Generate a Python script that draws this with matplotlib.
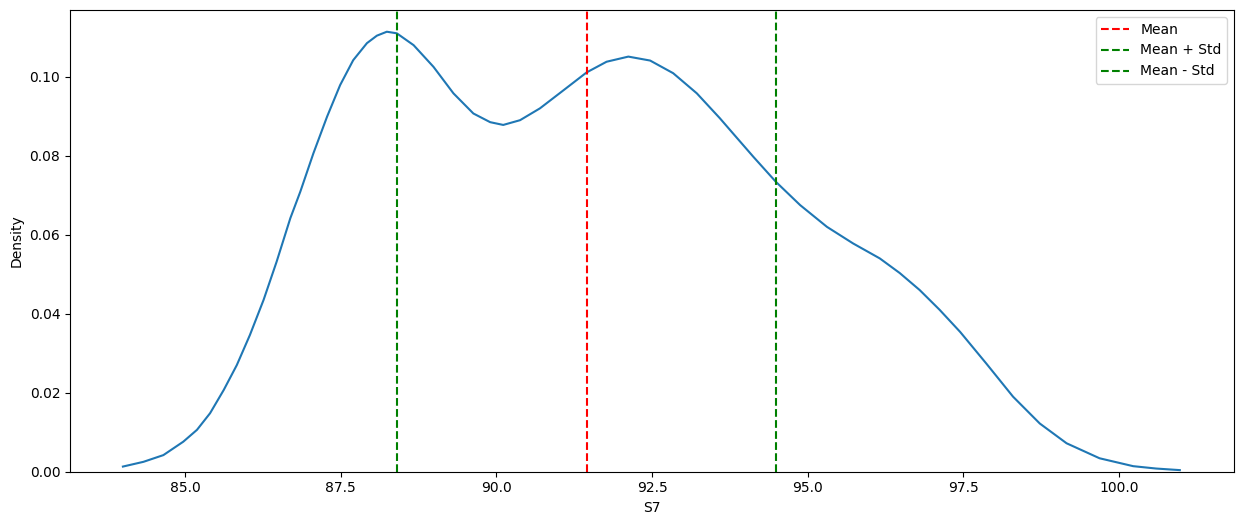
import matplotlib
matplotlib.use("Agg")
from matplotlib import pyplot as plt

# density curve of S7
s7_x = [84.00, 84.33, 84.65, 84.97, 85.19, 85.40, 85.62, 85.83, 86.04, 86.26,
        86.47, 86.69, 86.85, 87.06, 87.28, 87.49, 87.70, 87.92, 88.08, 88.24,
        88.40, 88.67, 88.99, 89.31, 89.63, 89.90, 90.11, 90.38, 90.70, 91.08,
        91.45, 91.77, 92.12, 92.47, 92.84, 93.22, 93.59, 93.81, 94.13, 94.49,
        94.88, 95.31, 95.73, 96.16, 96.48, 96.80, 97.12, 97.45, 97.87, 98.30,
        98.73, 99.16, 99.69, 100.23, 100.60, 100.98]
density = [0.0013, 0.0025, 0.0042, 0.0076, 0.0106, 0.0148, 0.0207, 0.0270, 0.0346, 0.0435,
           0.0532, 0.0642, 0.0709, 0.0806, 0.0899, 0.0979, 0.1042, 0.1085, 0.1104, 0.1114,
           0.1110, 0.1080, 0.1025, 0.0958, 0.0907, 0.0885, 0.0878, 0.0890, 0.0920, 0.0966,
           0.1011, 0.1038, 0.1051, 0.1041, 0.1009, 0.0958, 0.0895, 0.0855, 0.0797, 0.0734,
           0.0675, 0.0620, 0.0578, 0.0540, 0.0503, 0.0460, 0.0410, 0.0354, 0.0274, 0.0190,
           0.0122, 0.0072, 0.0034, 0.0014, 0.0008, 0.0004]

mean = 91.45
std = 3.045

fig = plt.figure(figsize=(12.42, 5.25), dpi=100)
ax = fig.add_axes([70 / 1242, 1 - 471.7 / 525, 1164 / 1242, 461.7 / 525])
ax.plot(s7_x, density, color="#1f77b4", linewidth=1.5)
ax.axvline(mean, color="red", linestyle="--", label="Mean")
ax.axvline(mean + std, color="green", linestyle="--", label="Mean + Std")
ax.axvline(mean - std, color="green", linestyle="--", label="Mean - Std")
ax.set_xlim(83.15, 101.85)
ax.set_ylim(0, 0.1169)
ax.set_xlabel("S7")
ax.set_ylabel("Density")
ax.legend(loc="upper right")
fig.savefig("out.png", dpi=100)
